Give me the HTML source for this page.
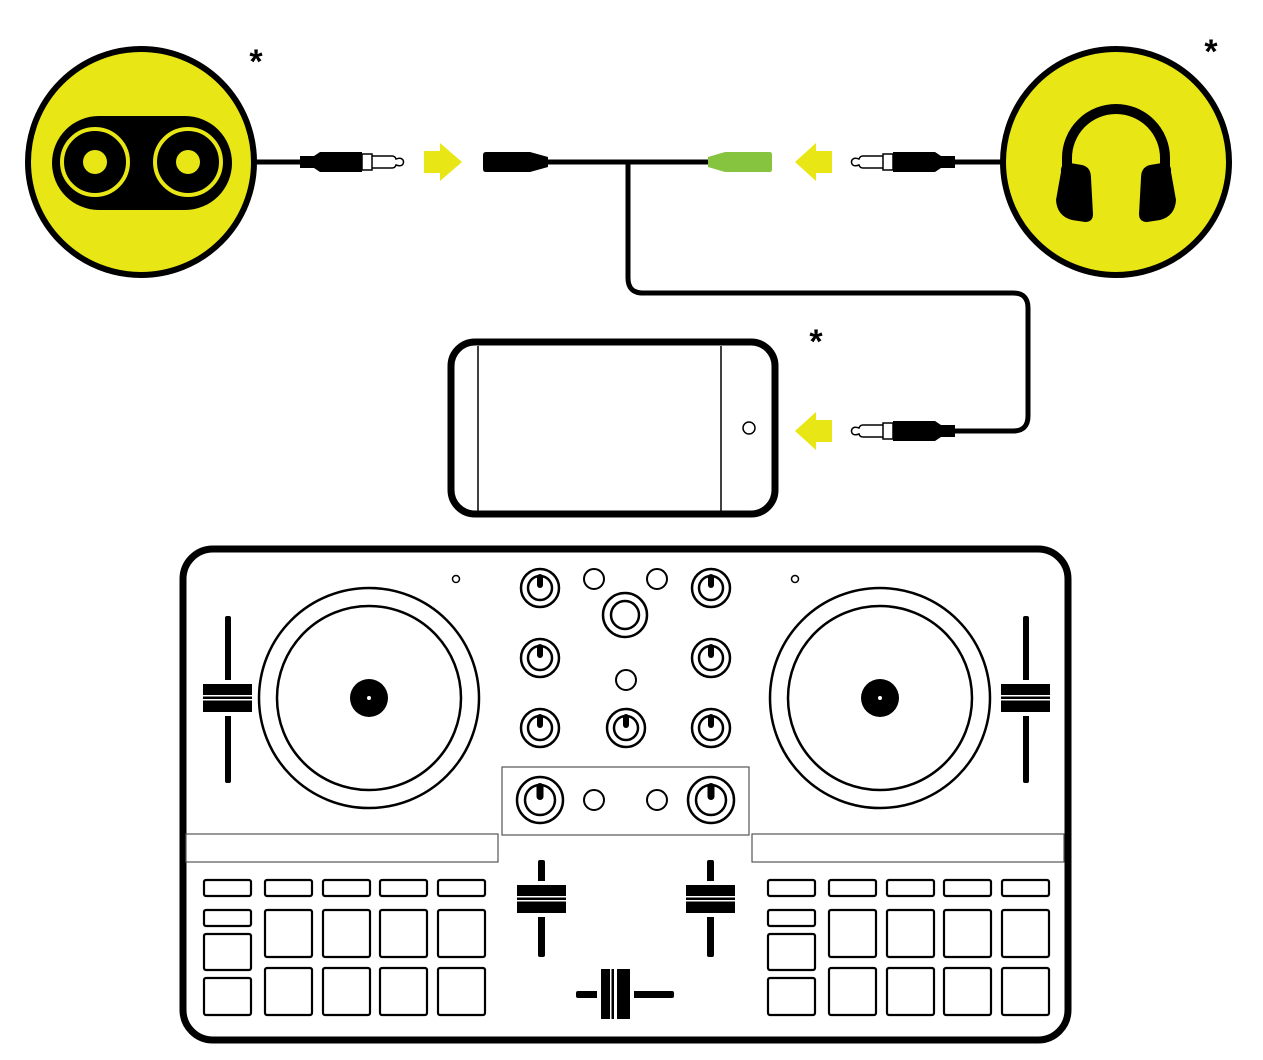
<!DOCTYPE html>
<html><head><style>html,body{margin:0;padding:0;background:#fff;}svg{display:block}</style></head><body>
<svg width="1263" height="1060" viewBox="0 0 1263 1060" xmlns="http://www.w3.org/2000/svg">
<defs>
<g id="knob"><circle r="19" fill="none" stroke="#000" stroke-width="2.5"/><circle r="12" fill="none" stroke="#000" stroke-width="2.5"/><rect x="-3" y="-14" width="6" height="14" rx="3" fill="#000"/></g>
<g id="bknob"><circle r="23" fill="none" stroke="#000" stroke-width="2.5"/><circle r="15" fill="none" stroke="#000" stroke-width="2.5"/><rect x="-3.5" y="-17" width="7" height="17" rx="3.5" fill="#000"/></g>
<g id="plugR"><path d="M0,-6 L14,-6 L20,-10 L62,-10 L62,10 L20,10 L14,6 L0,6Z" fill="#000"/><path d="M62,-8 L72,-8 L72,8 L62,8Z M72,-6 L92,-6 Q95,-6 96,-3 Q101,-5 103,-2 Q104,0 103,2 Q101,5 96,3 Q95,6 92,6 L72,6Z" fill="#fff" stroke="#000" stroke-width="1.5"/></g>
</defs>
<!-- speaker -->
<circle cx="141" cy="162" r="113" fill="#e8e614" stroke="#000" stroke-width="6"/>
<rect x="52" y="116" width="180" height="94" rx="47" fill="#000"/>
<circle cx="95" cy="162" r="33" fill="none" stroke="#e8e614" stroke-width="4"/>
<circle cx="95" cy="162" r="12" fill="#e8e614"/>
<circle cx="188" cy="162" r="33" fill="none" stroke="#e8e614" stroke-width="4"/>
<circle cx="188" cy="162" r="12" fill="#e8e614"/>
<!-- headphones -->
<circle cx="1116" cy="162" r="113" fill="#e8e614" stroke="#000" stroke-width="6"/>
<path d="M1067,180 L1067,158 A49,49 0 0 1 1165,158 L1165,180" fill="none" stroke="#000" stroke-width="10"/>
<path d="M1061,172 Q1060,163 1070,163 L1082,165 Q1091,167 1091,178 L1093,214 Q1093,222 1085,222 L1072,220 Q1057,216 1056,200 Z" fill="#000"/>
<path d="M1171,172 Q1172,163 1162,163 L1150,165 Q1141,167 1141,178 L1139,214 Q1139,222 1147,222 L1160,220 Q1175,216 1176,200 Z" fill="#000"/>
<!-- asterisks -->
<g font-family="Liberation Sans, sans-serif" font-size="34" font-weight="bold" fill="#000" text-anchor="middle">
<text x="256" y="73">*</text><text x="1211" y="63">*</text><text x="816" y="353">*</text></g>
<!-- cables -->
<line x1="255" y1="162" x2="302" y2="162" stroke="#000" stroke-width="5"/>
<use href="#plugR" x="300" y="162"/>
<path d="M424,151 L440,151 L440,143 L462,162 L440,181 L440,173 L424,173Z" fill="#e8e614"/>
<path d="M486,152 L530,152 L548,157 L548,167 L530,172 L486,172 Q483,172 483,169 L483,155 Q483,152 486,152Z" fill="#000"/>
<line x1="546" y1="162" x2="712" y2="162" stroke="#000" stroke-width="5"/>
<path d="M708,157 L725,152 L770,152 Q772,152 772,155 L772,169 Q772,172 770,172 L725,172 L708,167Z" fill="#86c440"/>
<path d="M832,151 L816,151 L816,143 L795,162 L816,181 L816,173 L832,173Z" fill="#e8e614"/>
<g transform="translate(955,162) scale(-1,1)"><use href="#plugR"/></g>
<line x1="953" y1="162" x2="1003" y2="162" stroke="#000" stroke-width="5"/>
<path d="M628,162 L628,278 Q628,293 643,293 L1013,293 Q1028,293 1028,308 L1028,416 Q1028,431 1013,431 L953,431" fill="none" stroke="#000" stroke-width="5"/>
<g transform="translate(955,431) scale(-1,1)"><use href="#plugR"/></g>
<path d="M832,420 L816,420 L816,412 L795,431 L816,450 L816,442 L832,442Z" fill="#e8e614"/>
<!-- phone -->
<rect x="451" y="342" width="324" height="172" rx="24" fill="#fff" stroke="#000" stroke-width="7"/>
<line x1="478" y1="346" x2="478" y2="511" stroke="#000" stroke-width="1.5"/>
<line x1="721" y1="346" x2="721" y2="511" stroke="#000" stroke-width="1.5"/>
<circle cx="749" cy="428" r="6" fill="none" stroke="#000" stroke-width="1.5"/>
<!-- controller -->
<rect x="183" y="549" width="885" height="491" rx="30" fill="#fff" stroke="#000" stroke-width="7"/>
<g fill="none" stroke="#000" stroke-width="2.5">
<circle cx="369" cy="698" r="110"/><circle cx="369" cy="698" r="92"/>
<circle cx="880" cy="698" r="110"/><circle cx="880" cy="698" r="92"/>
<circle cx="456" cy="579" r="3.5" stroke-width="1.5"/><circle cx="795" cy="579" r="3.5" stroke-width="1.5"/>
<circle cx="594" cy="579" r="10" stroke-width="2"/><circle cx="657" cy="579" r="10" stroke-width="2"/>
<circle cx="625" cy="615" r="22"/><circle cx="625" cy="615" r="14"/>
<circle cx="626" cy="680" r="10" stroke-width="2"/>
<circle cx="594" cy="800" r="10" stroke-width="2"/><circle cx="657" cy="800" r="10" stroke-width="2"/>
</g>
<circle cx="369" cy="698" r="19"/><circle cx="369" cy="698" r="2" fill="#fff"/>
<circle cx="880" cy="698" r="19"/><circle cx="880" cy="698" r="2" fill="#fff"/>
<use href="#knob" x="540" y="588"/><use href="#knob" x="711" y="588"/>
<use href="#knob" x="540" y="658"/><use href="#knob" x="711" y="658"/>
<use href="#knob" x="540" y="728"/><use href="#knob" x="626" y="728"/><use href="#knob" x="711" y="728"/>
<use href="#bknob" x="540" y="800"/><use href="#bknob" x="711" y="800"/>
<g fill="none" stroke="#555" stroke-width="1.2">
<rect x="502" y="767" width="247" height="68"/>
<rect x="186" y="834" width="312" height="28"/>
<rect x="752" y="834" width="312" height="28"/>
</g>
<g fill="#000">
<rect x="225" y="616" width="6" height="167" rx="2"/>
<rect x="203" y="684" width="49" height="28"/>
<rect x="1023" y="616" width="6" height="167" rx="2"/>
<rect x="1001" y="684" width="49" height="28"/>
<rect x="538" y="860" width="7" height="97" rx="2"/>
<rect x="517" y="885" width="49" height="28"/>
<rect x="707" y="860" width="7" height="97" rx="2"/>
<rect x="686" y="885" width="49" height="28"/>
<rect x="576" y="991" width="98" height="7" rx="2"/>
<rect x="601" y="969" width="29" height="50"/>
</g>
<g fill="#fff">
<rect x="203" y="695" width="49" height="1.5"/><rect x="203" y="699" width="49" height="1.5"/>
<rect x="1001" y="695" width="49" height="1.5"/><rect x="1001" y="699" width="49" height="1.5"/>
<rect x="517" y="896" width="49" height="1.5"/><rect x="517" y="900" width="49" height="1.5"/>
<rect x="686" y="896" width="49" height="1.5"/><rect x="686" y="900" width="49" height="1.5"/>
<rect x="610" y="969" width="1.5" height="50"/><rect x="614" y="969" width="3" height="50"/>
<rect x="538" y="913" width="7" height="4"/><rect x="538" y="881" width="7" height="4"/>
<rect x="707" y="913" width="7" height="4"/><rect x="707" y="881" width="7" height="4"/>
<rect x="225" y="712" width="6" height="4"/><rect x="225" y="680" width="6" height="4"/>
<rect x="1023" y="712" width="6" height="4"/><rect x="1023" y="680" width="6" height="4"/>
<rect x="597" y="991" width="4" height="7"/><rect x="630" y="991" width="4" height="7"/>
</g>
<g id="pads" fill="none" stroke="#000" stroke-width="2.2">
<rect x="204" y="880" width="47" height="16" rx="2"/>
<rect x="265" y="880" width="47" height="16" rx="2"/>
<rect x="323" y="880" width="47" height="16" rx="2"/>
<rect x="380" y="880" width="47" height="16" rx="2"/>
<rect x="438" y="880" width="47" height="16" rx="2"/>
<rect x="204" y="910" width="47" height="16" rx="2"/>
<rect x="204" y="934" width="47" height="36" rx="2"/>
<rect x="204" y="978" width="47" height="37" rx="2"/>
<rect x="265" y="910" width="47" height="47" rx="2"/>
<rect x="323" y="910" width="47" height="47" rx="2"/>
<rect x="380" y="910" width="47" height="47" rx="2"/>
<rect x="438" y="910" width="47" height="47" rx="2"/>
<rect x="265" y="968" width="47" height="47" rx="2"/>
<rect x="323" y="968" width="47" height="47" rx="2"/>
<rect x="380" y="968" width="47" height="47" rx="2"/>
<rect x="438" y="968" width="47" height="47" rx="2"/>
</g>
<use href="#pads" x="564" y="0"/>
</svg>
</body></html>
